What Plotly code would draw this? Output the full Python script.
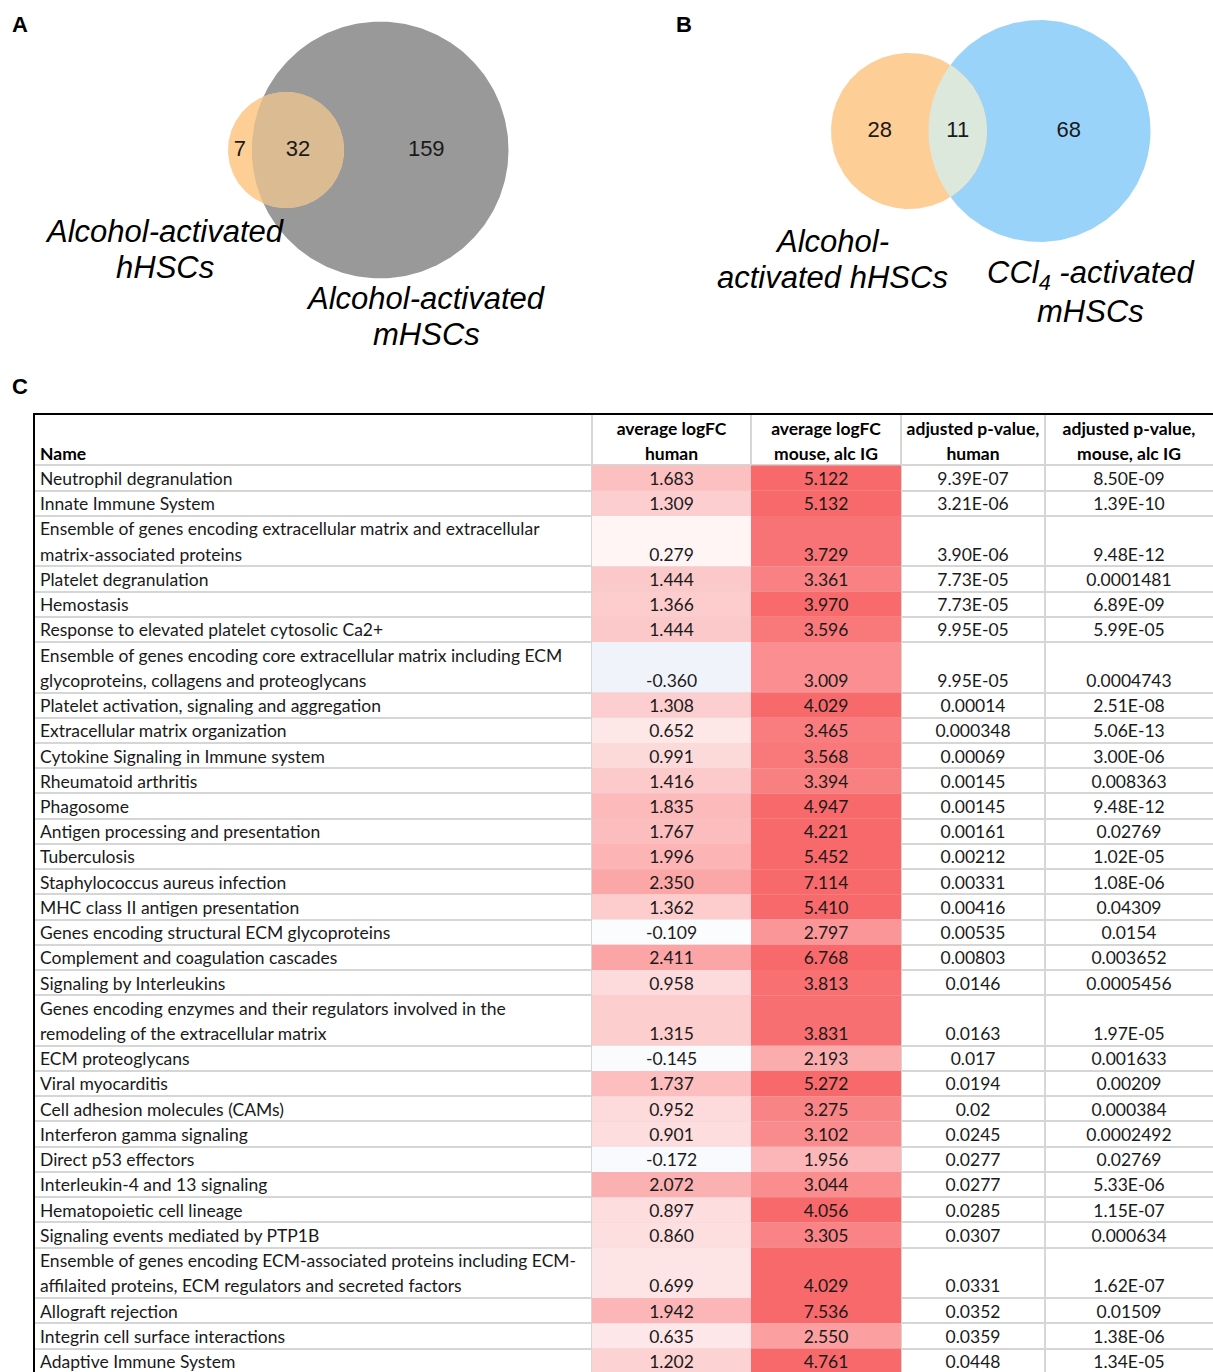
import math
import numpy as np
import plotly.graph_objects as go

# ---------------- data ----------------
# Venn A: [only alcohol-activated hHSCs, shared, only alcohol-activated mHSCs]
venn_a_counts = [7, 32, 159]
venn_a_labels = ["Alcohol-activated<br>hHSCs", "Alcohol-activated<br>mHSCs"]
# Venn B: [only alcohol-activated hHSCs, shared, only CCl4-activated mHSCs]
venn_b_counts = [28, 11, 68]
venn_b_labels = ["Alcohol-<br>activated hHSCs", "CCl<sub>4</sub> -activated<br>mHSCs"]

header = ["Name", "average logFC<br>human", "average logFC<br>mouse, alc IG",
          "adjusted p-value,<br>human", "adjusted p-value,<br>mouse, alc IG"]

names = [
    "Neutrophil degranulation",
    "Innate Immune System",
    "Ensemble of genes encoding extracellular matrix and extracellular<br>matrix-associated proteins",
    "Platelet degranulation",
    "Hemostasis",
    "Response to elevated platelet cytosolic Ca2+",
    "Ensemble of genes encoding core extracellular matrix including ECM<br>glycoproteins, collagens and proteoglycans",
    "Platelet activation, signaling and aggregation",
    "Extracellular matrix organization",
    "Cytokine Signaling in Immune system",
    "Rheumatoid arthritis",
    "Phagosome",
    "Antigen processing and presentation",
    "Tuberculosis",
    "Staphylococcus aureus infection",
    "MHC class II antigen presentation",
    "Genes encoding structural ECM glycoproteins",
    "Complement and coagulation cascades",
    "Signaling by Interleukins",
    "Genes encoding enzymes and their regulators involved in the<br>remodeling of the extracellular matrix",
    "ECM proteoglycans",
    "Viral myocarditis",
    "Cell adhesion molecules (CAMs)",
    "Interferon gamma signaling",
    "Direct p53 effectors",
    "Interleukin-4 and 13 signaling",
    "Hematopoietic cell lineage",
    "Signaling events mediated by PTP1B",
    "Ensemble of genes encoding ECM-associated proteins including ECM-<br>affilaited proteins, ECM regulators and secreted factors",
    "Allograft rejection",
    "Integrin cell surface interactions",
    "Adaptive Immune System",
]
logfc_human = [1.683, 1.309, 0.279, 1.444, 1.366, 1.444, -0.360, 1.308, 0.652, 0.991,
               1.416, 1.835, 1.767, 1.996, 2.350, 1.362, -0.109, 2.411, 0.958, 1.315,
               -0.145, 1.737, 0.952, 0.901, -0.172, 2.072, 0.897, 0.860, 0.699, 1.942,
               0.635, 1.202]
logfc_mouse = [5.122, 5.132, 3.729, 3.361, 3.970, 3.596, 3.009, 4.029, 3.465, 3.568,
               3.394, 4.947, 4.221, 5.452, 7.114, 5.410, 2.797, 6.768, 3.813, 3.831,
               2.193, 5.272, 3.275, 3.102, 1.956, 3.044, 4.056, 3.305, 4.029, 7.536,
               2.550, 4.761]
padj_human = ["9.39E-07", "3.21E-06", "3.90E-06", "7.73E-05", "7.73E-05", "9.95E-05",
              "9.95E-05", "0.00014", "0.000348", "0.00069", "0.00145", "0.00145",
              "0.00161", "0.00212", "0.00331", "0.00416", "0.00535", "0.00803",
              "0.0146", "0.0163", "0.017", "0.0194", "0.02", "0.0245", "0.0277",
              "0.0277", "0.0285", "0.0307", "0.0331", "0.0352", "0.0359", "0.0448"]
padj_mouse = ["8.50E-09", "1.39E-10", "9.48E-12", "0.0001481", "6.89E-09", "5.99E-05",
              "0.0004743", "2.51E-08", "5.06E-13", "3.00E-06", "0.008363", "9.48E-12",
              "0.02769", "1.02E-05", "1.08E-06", "0.04309", "0.0154", "0.003652",
              "0.0005456", "1.97E-05", "0.001633", "0.00209", "0.000384", "0.0002492",
              "0.02769", "5.33E-06", "1.15E-07", "0.000634", "1.62E-07", "0.01509",
              "1.38E-06", "1.34E-05"]

# ---------------- style / layout constants ----------------
W, H = 1213, 1372
VENN_BOTTOM_PX = 415          # top of table
SANS = "Liberation Sans"
TFONT = "Lato"
TSIZE = 17.5
TXT = "#1a1a1a"

# ---------------- venn geometry ----------------
def lens_area(r1, r2, d):
    if d >= r1 + r2:
        return 0.0
    if d <= abs(r1 - r2):
        return math.pi * min(r1, r2) ** 2
    a1 = math.acos((d * d + r1 * r1 - r2 * r2) / (2 * d * r1))
    a2 = math.acos((d * d + r2 * r2 - r1 * r1) / (2 * d * r2))
    k = 0.5 * math.sqrt((-d + r1 + r2) * (d + r1 - r2) * (d - r1 + r2) * (d + r1 + r2))
    return r1 * r1 * a1 + r2 * r2 * a2 - k


def solve_distance(r1, r2, overlap):
    lo, hi = abs(r1 - r2) + 1e-9, r1 + r2 - 1e-9
    for _ in range(200):
        mid = 0.5 * (lo + hi)
        if lens_area(r1, r2, mid) > overlap:
            lo = mid
        else:
            hi = mid
    return 0.5 * (lo + hi)


def circle_pts(cx, r, n=300):
    t = np.linspace(0, 2 * np.pi, n)
    return cx + r * np.cos(t), r * np.sin(t)


def lens_pts(r1, r2, d, n=200):
    t1 = math.acos((d * d + r1 * r1 - r2 * r2) / (2 * d * r1))
    t2 = math.acos((d * d + r2 * r2 - r1 * r1) / (2 * d * r2))
    a = np.linspace(-t1, t1, n)
    b = np.linspace(math.pi - t2, math.pi + t2, n)
    xs = np.concatenate([r1 * np.cos(a), d + r2 * np.cos(b)])
    ys = np.concatenate([r1 * np.sin(a), r2 * np.sin(b)])
    return np.append(xs, xs[0]), np.append(ys, ys[0])


fig = go.Figure()


def add_venn(counts, xa, ya, colors, small_px_r, anchor_px, dom_px):
    only1, both, only2 = counts
    r1 = math.sqrt((only1 + both) / math.pi)
    r2 = math.sqrt((only2 + both) / math.pi)
    d = solve_distance(r1, r2, both)
    c1, c2, cl = colors
    for (xs, ys), col in [(circle_pts(d, r2), c2), (circle_pts(0, r1), c1), (lens_pts(r1, r2, d), cl)]:
        fig.add_trace(go.Scatter(x=xs, y=ys, mode="lines", fill="toself", fillcolor=col,
                                 line=dict(width=0, color=col), hoverinfo="skip",
                                 xaxis=xa, yaxis=ya))
    xl = [0.5 * (-r1 + (d - r2)), 0.5 * ((d - r2) + r1), 0.5 * (r1 + d + r2)]
    fig.add_trace(go.Scatter(x=xl, y=[0.0, 0.0, 0.0], mode="text", text=[str(c) for c in counts],
                             textfont=dict(family=SANS, size=22, color=TXT),
                             hoverinfo="skip", xaxis=xa, yaxis=ya))
    k = small_px_r / r1
    ax, ay = anchor_px
    xr = [(dom_px[0] - ax) / k, (dom_px[1] - ax) / k]
    yr = [(ay - VENN_BOTTOM_PX) / k, ay / k]
    return xr, yr


xrA, yrA = add_venn(venn_a_counts, "x", "y", ["#FDCF95", "#999999", "#DBBB91"], 58, (286, 150), (0, 630))
xrB, yrB = add_venn(venn_b_counts, "x2", "y2", ["#FDCE96", "#9AD3FA", "#DCE8DC"], 78, (909, 131), (630, W))

# ---------------- table ----------------
COL_EDGES = [35, 592, 751, 901, 1045, 1213]
LINE_PX = 25.23
HEADER_LINES = 2
n_lines = [len(n.split("<br>")) for n in names]
tops = []
acc = HEADER_LINES
for nl in n_lines:
    tops.append(acc)
    acc += nl
row_bounds = [HEADER_LINES] + [t + nl for t, nl in zip(tops, n_lines)]
table_dom_top = 1 - VENN_BOTTOM_PX / H
y_span = (H - VENN_BOTTOM_PX) / LINE_PX


def heat(v, vmax=4.0):
    t = max(-1.0, min(1.0, v / vmax))
    if t >= 0:
        end = (248, 105, 107)
    else:
        end = (90, 138, 198)
        t = -t
    r, g, b = [round(255 + (e - 255) * t) for e in end]
    return f"rgb({r},{g},{b})"


centers = [(COL_EDGES[i] + COL_EDGES[i + 1]) / 2 for i in range(5)]
widths = [COL_EDGES[i + 1] - COL_EDGES[i] for i in range(5)]

for ci, vals in [(1, logfc_human), (2, logfc_mouse)]:
    fig.add_trace(go.Bar(x=[centers[ci]] * len(vals), y=n_lines, base=tops, width=widths[ci],
                         marker=dict(color=[heat(v) for v in vals], line=dict(width=0)),
                         hoverinfo="skip", xaxis="x3", yaxis="y3"))

YOFF = 0.6
NAME_X = COL_EDGES[0] + 5
# names
nx, ny, nt = [], [], []
for name, t in zip(names, tops):
    for j, part in enumerate(name.split("<br>")):
        nx.append(NAME_X)
        ny.append(t + j + YOFF)
        nt.append(part)
fig.add_trace(go.Scatter(x=nx, y=ny, text=nt, mode="text", textposition="middle right",
                         textfont=dict(family=TFONT, size=TSIZE, color=TXT), hoverinfo="skip",
                         cliponaxis=False, xaxis="x3", yaxis="y3"))
# numeric columns
cols_text = [[f"{v:.3f}" for v in logfc_human], [f"{v:.3f}" for v in logfc_mouse], padj_human, padj_mouse]
for ci, texts in enumerate(cols_text, start=1):
    fig.add_trace(go.Scatter(x=[centers[ci]] * len(texts),
                             y=[t + nl - 1 + YOFF for t, nl in zip(tops, n_lines)],
                             text=texts, mode="text", textposition="middle center",
                             textfont=dict(family=TFONT, size=TSIZE, color=TXT), hoverinfo="skip",
                             cliponaxis=False, xaxis="x3", yaxis="y3"))
# header
hx, hy, ht, hp = [], [], [], []
for ci, h in enumerate(header):
    parts = h.split("<br>")
    for j, part in enumerate(parts):
        hx.append(NAME_X if ci == 0 else centers[ci])
        hy.append(HEADER_LINES - len(parts) + j + YOFF)
        ht.append("<b>" + part + "</b>")
        hp.append("middle right" if ci == 0 else "middle center")
fig.add_trace(go.Scatter(x=hx, y=hy, text=ht, mode="text", textposition=hp,
                         textfont=dict(family=TFONT, size=TSIZE, color="#000000"), hoverinfo="skip",
                         cliponaxis=False, xaxis="x3", yaxis="y3"))

# ---------------- annotations (panel letters, set labels) ----------------
def px_ann(text, x, y, size, bold=False, italic=False):
    if italic:
        text = "<i>" + text + "</i>"
    if bold:
        text = "<b>" + text + "</b>"
    return dict(text=text, x=x / W, y=1 - y / H, xref="paper", yref="paper", showarrow=False,
                xanchor="center", yanchor="middle", font=dict(family=SANS, size=size, color="#000000"))

anns = [px_ann("A", 20, 24, 22, bold=True), px_ann("B", 684, 24, 22, bold=True),
        px_ann("C", 20, 387, 22, bold=True)]
label_pos = [((165, 232), (165, 268)), ((426, 298), (426, 334)),
             ((832, 242), (832, 278)), ((1091, 275), (1090, 311))]
for lab, pos in zip(venn_a_labels + venn_b_labels, label_pos):
    for part, (x, y) in zip(lab.split("<br>"), pos):
        anns.append(px_ann(part, x, y, 31, italic=True))

hidden = dict(visible=False, showgrid=False, zeroline=False)
fig.update_layout(
    width=W, height=H, margin=dict(l=0, r=0, t=0, b=0),
    paper_bgcolor="white", plot_bgcolor="rgba(0,0,0,0)", showlegend=False,
    barmode="overlay", annotations=anns,
    xaxis=dict(domain=[0, 630 / W], range=xrA, anchor="y", **hidden),
    yaxis=dict(domain=[table_dom_top, 1], range=yrA, anchor="x", **hidden),
    xaxis2=dict(domain=[630 / W, 1], range=xrB, anchor="y2", **hidden),
    yaxis2=dict(domain=[table_dom_top, 1], range=yrB, anchor="x2", **hidden),
    xaxis3=dict(domain=[COL_EDGES[0] / W, 1], range=[COL_EDGES[0], W], side="top", anchor="y3",
                tickvals=COL_EDGES[1:-1], showticklabels=False, ticks="",
                showgrid=True, gridcolor="#D6D6D6", gridwidth=2, zeroline=False,
                showline=True, linecolor="#000000", linewidth=2),
    yaxis3=dict(domain=[0, table_dom_top], range=[y_span, 0], tickvals=row_bounds, anchor="x3",
                showticklabels=False, ticks="", showgrid=True, gridcolor="#D6D6D6", gridwidth=2,
                zeroline=False, showline=True, linecolor="#000000", linewidth=2),
)

fig.write_html("out.html", config={"displayModeBar": False},
               post_script="document.body.style.margin='0';document.body.style.overflow='hidden';")
